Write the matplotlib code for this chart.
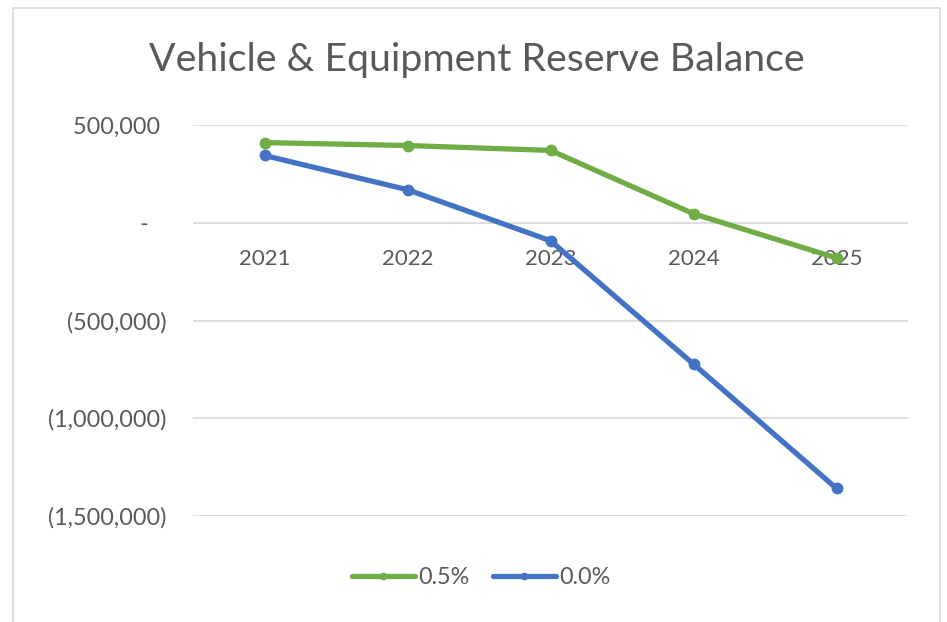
import matplotlib
matplotlib.use("Agg")
import matplotlib.pyplot as plt
from matplotlib.patches import Rectangle
from matplotlib.ticker import FuncFormatter, FixedLocator

plt.rcParams["font.family"] = ["Lato", "DejaVu Sans"]

years = ["2021", "2022", "2023", "2024", "2025"]
rate_05 = [410000, 395000, 370000, 46000, -180000]
rate_00 = [344000, 169000, -92000, -723000, -1359000]
series_names = ["0.5%", "0.0%"]

GREEN = "#70AD47"
BLUE = "#4472C4"
TEXT = "#595959"
GRID = "#D9D9D9"
FS = 16.8


def acct(v, _pos=None):
    # formato contábil do Excel: negativos entre parênteses, zero como "-"
    if v == 0:
        return "-   "
    if v < 0:
        return f"({abs(v):,.0f})"
    return f"{v:,.0f} "


W, H = 947, 622
fig = plt.figure(figsize=(W / 100, H / 100), dpi=100)
fig.patch.set_facecolor("white")

# moldura do gráfico
fig.add_artist(Rectangle((13 / W, -0.01), (940 - 13) / W, 1 - 8 / H + 0.01,
                         transform=fig.transFigure, fill=False,
                         edgecolor=GRID, linewidth=1.2))

ax = fig.add_axes([193 / W, 1 - 516 / H, (908 - 193) / W, (516 - 125) / H])
x = list(range(len(years)))
ax.plot(x, rate_05, color=GREEN, lw=3.8, marker="o", ms=7.5, label=series_names[0],
        solid_capstyle="round", zorder=3)
ax.plot(x, rate_00, color=BLUE, lw=3.8, marker="o", ms=7.5, label=series_names[1],
        solid_capstyle="round", zorder=3)

ax.set_xlim(-0.5, len(years) - 0.5)
ax.set_ylim(-1500000, 500000)
ax.yaxis.set_major_locator(FixedLocator([-1500000, -1000000, -500000, 0, 500000]))
ax.yaxis.set_major_formatter(FuncFormatter(acct))
ax.grid(axis="y", color=GRID, lw=1.2)
ax.set_axisbelow(True)
for s in ax.spines.values():
    s.set_visible(False)
ax.tick_params(axis="y", length=0, pad=19, labelsize=FS, labelcolor=TEXT)
ax.set_xticks([])

# rótulos das categorias ficam junto ao eixo zero
for i, yr in enumerate(years):
    ax.annotate(yr, (i, 0), xytext=(0, -26), textcoords="offset points",
                ha="center", va="center", fontsize=16, color=TEXT, zorder=2)

fig.text(477 / W, 1 - 60 / H, "Vehicle & Equipment Reserve Balance",
         ha="center", va="center", fontsize=28.3, color=TEXT)

fig.legend(loc="center", bbox_to_anchor=(481 / W, 1 - 578 / H), ncol=2,
           frameon=False, fontsize=FS, labelcolor=TEXT, handlelength=2.7,
           handletextpad=0.15, columnspacing=1.0, markerscale=0.6)

fig.savefig("out.png", dpi=100)
